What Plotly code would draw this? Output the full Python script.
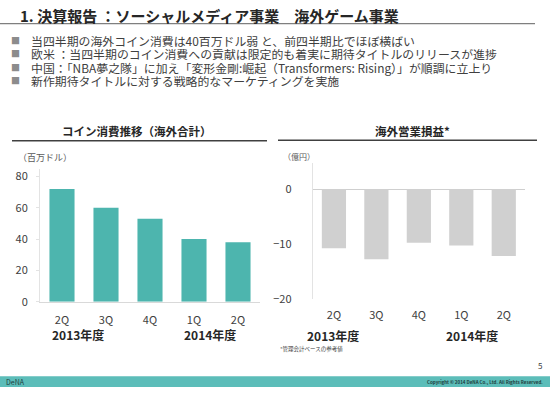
import plotly.graph_objects as go

W, H = 550, 398
FONT = "Noto Sans CJK JP"

quarters = ["2Q", "3Q", "4Q", "1Q", "2Q"]
coin_values = [72, 60, 53, 40, 38]          # 百万ドル
op_income = [-10.8, -12.8, -9.8, -10.3, -12.2]  # 億円
years = ["2013年度", "2014年度"]

title_text = "1. 決算報告 ：ソーシャルメディア事業　海外ゲーム事業"
bullets = [
    "当四半期の海外コイン消費は40百万ドル弱 と、前四半期比でほぼ横ばい",
    "欧米 ：当四半期のコイン消費への貢献は限定的も着実に期待タイトルのリリースが進捗",
    "中国：「NBA夢之隊」に加え「変形金剛:崛起（Transformers: Rising）」が順調に立上り",
    "新作期待タイトルに対する戦略的なマーケティングを実施",
]
left_title = "コイン消費推移（海外合計）"
right_title = "海外営業損益*"
left_unit = "（百万ドル）"
right_unit = "（億円）"
footnote = "*管理会計ベースの参考値"

def px(x):
    return x / W

def py(y):
    return 1 - y / H

idx = list(range(len(quarters)))

fig = go.Figure()
fig.add_trace(go.Bar(x=idx, y=coin_values, marker_color="#4db5ae",
                     marker_line_width=0, xaxis="x", yaxis="y", showlegend=False))
fig.add_trace(go.Bar(x=idx, y=op_income, marker_color="#d0d0d0",
                     marker_line_width=0, xaxis="x2", yaxis="y2", showlegend=False))

axis_font = dict(family=FONT, size=11, color="#404040")

fig.update_layout(
    width=W, height=H,
    margin=dict(l=0, r=0, t=0, b=0),
    paper_bgcolor="white", plot_bgcolor="white",
    bargap=0.43,
    font=dict(family=FONT, color="#404040"),
    xaxis=dict(domain=[px(40), px(260)], range=[-0.5, 4.5], tickvals=idx, ticktext=quarters,
               showgrid=False, zeroline=False, showline=True, linecolor="#d9d9d9", linewidth=1,
               ticks="", tickfont=axis_font, ticklabelstandoff=8, anchor="y"),
    yaxis=dict(domain=[py(307), py(171)], range=[0, 85], tickvals=[0, 20, 40, 60, 80],
               showgrid=False, zeroline=False, showline=True, linecolor="#e3e3e3", linewidth=1,
               ticks="outside", ticklen=3, tickcolor="#e3e3e3",
               tickfont=axis_font, ticklabelstandoff=6, anchor="x"),
    xaxis2=dict(domain=[px(312.7), px(525)], range=[-0.5, 4.5], tickvals=idx, ticktext=quarters,
                showgrid=False, zeroline=False, showline=False,
                ticks="", tickfont=axis_font, ticklabelstandoff=8, anchor="y2"),
    yaxis2=dict(domain=[py(304), py(165)], range=[-20, 4.8], tickvals=[-20, -10, 0],
                showgrid=False, zeroline=True, zerolinecolor="#cfcfcf", zerolinewidth=1,
                showline=True, linecolor="#e3e3e3", linewidth=1,
                ticks="", tickfont=axis_font, ticklabelstandoff=18, anchor="x2"),
)

shapes = [
    # header underline
    dict(type="line", xref="paper", yref="paper", x0=0, x1=px(535), y0=py(23), y1=py(23),
         line=dict(color="#7f7f7f", width=1.2)),
    # chart title underlines
    dict(type="line", xref="paper", yref="paper", x0=px(12), x1=px(267), y0=py(142.5), y1=py(142.5),
         line=dict(color="#404040", width=1.5)),
    dict(type="line", xref="paper", yref="paper", x0=px(278), x1=px(537), y0=py(142), y1=py(142),
         line=dict(color="#404040", width=1.5)),
    # footer bar
    dict(type="rect", xref="paper", yref="paper", x0=0, x1=1, y0=py(394), y1=py(383),
         fillcolor="#5cbdb9", line=dict(width=0)),
]
fig.update_layout(shapes=shapes)

ann = []
ann.append(dict(text="<b>" + title_text + "</b>", x=px(18), y=py(15), xanchor="left", yanchor="middle",
                font=dict(family=FONT, size=15, color="#262626")))
for i, b in enumerate(bullets):
    yy = 40 + i * 13.8
    ann.append(dict(text="■", x=px(9), y=py(yy), xanchor="left", yanchor="middle",
                    font=dict(family=FONT, size=9, color="#8c8c8c")))
    ann.append(dict(text=b, x=px(29), y=py(yy), xanchor="left", yanchor="middle",
                    font=dict(family=FONT, size=11.9, color="#404040")))
ann.append(dict(text="<b>" + left_title + "</b>", x=px(137), y=py(133), xanchor="center", yanchor="middle",
                font=dict(family=FONT, size=11.5, color="#262626")))
ann.append(dict(text="<b>" + right_title + "</b>", x=px(412), y=py(132.5), xanchor="center", yanchor="middle",
                font=dict(family=FONT, size=11.5, color="#262626")))
ann.append(dict(text=left_unit, x=px(16), y=py(160), xanchor="left", yanchor="middle",
                font=dict(family=FONT, size=9, color="#595959")))
ann.append(dict(text=right_unit, x=px(281), y=py(159), xanchor="left", yanchor="middle",
                font=dict(family=FONT, size=8, color="#595959")))
ann.append(dict(text="<b>" + years[0] + "</b>", x=px(78), y=py(340), xanchor="center", yanchor="middle",
                font=dict(family=FONT, size=12, color="#262626")))
ann.append(dict(text="<b>" + years[1] + "</b>", x=px(210), y=py(340), xanchor="center", yanchor="middle",
                font=dict(family=FONT, size=12, color="#262626")))
ann.append(dict(text="<b>" + years[0] + "</b>", x=px(333), y=py(341), xanchor="center", yanchor="middle",
                font=dict(family=FONT, size=12, color="#262626")))
ann.append(dict(text="<b>" + years[1] + "</b>", x=px(472), y=py(341), xanchor="center", yanchor="middle",
                font=dict(family=FONT, size=12, color="#262626")))
ann.append(dict(text=footnote, x=px(278), y=py(355), xanchor="left", yanchor="middle",
                font=dict(family=FONT, size=5.5, color="#404040")))
ann.append(dict(text="5", x=px(540), y=py(372), xanchor="center", yanchor="middle",
                font=dict(family=FONT, size=8, color="#404040")))
ann.append(dict(text="DeNA", x=px(4), y=py(388.5), xanchor="left", yanchor="middle",
                font=dict(family=FONT, size=7, color="#1f3f3e")))
ann.append(dict(text="<b>Copyright © 2014 DeNA Co., Ltd. All Rights Reserved.</b>", x=px(545), y=py(388.5),
                xanchor="right", yanchor="middle",
                font=dict(family=FONT, size=4.5, color="#1f3f3e")))
for a in ann:
    a.update(xref="paper", yref="paper", showarrow=False)
fig.update_layout(annotations=ann)

fig.write_html(
    "out.html",
    config={"displayModeBar": False, "staticPlot": True},
    post_script=(
        "var d=document.documentElement,b=document.body;"
        "d.style.margin='0';d.style.padding='0';d.style.overflow='hidden';"
        "b.style.margin='0';b.style.padding='0';b.style.overflow='hidden';"
    ),
)
